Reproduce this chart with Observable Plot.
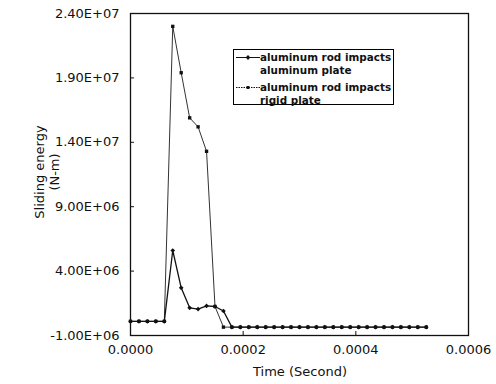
<!DOCTYPE html>
<html>
<head>
<meta charset="utf-8">
<script src="https://cdn.jsdelivr.net/npm/d3@7"></script>
<script src="https://cdn.jsdelivr.net/npm/@observablehq/plot@0.6"></script>
<style>
  html, body { margin: 0; padding: 0; background: #fff; }
  #wrap { position: relative; width: 496px; height: 384px; font-family: "DejaVu Sans", sans-serif; }
  #legend { position: absolute; left: 233px; top: 49px; width: 159px; height: 54px; border: 1px solid #000; background: #fff;
    font: bold 10.4px "DejaVu Sans", sans-serif; color: #111; }
  .item { position: absolute; left: 0; }
  .item svg { position: absolute; left: 2px; }
  .item div { position: absolute; left: 26px; white-space: nowrap; line-height: 12.5px; }
  #ytitle { position: absolute; left: 47px; top: 172px; transform: translate(-50%, -50%) rotate(-90deg); text-align: center;
    font: 13px "DejaVu Sans", sans-serif; line-height: 15px; white-space: nowrap; color: #111; }
  #xtitle { position: absolute; left: 300px; top: 364px; transform: translateX(-50%); font: 13px "DejaVu Sans", sans-serif; color: #111; white-space: nowrap; }
</style>
</head>
<body>
<div id="wrap"></div>
<script>
// Data
const time = [0, 1.5e-5, 3.0e-5, 4.5e-5, 6.0e-5, 7.5e-5, 9.0e-5, 1.05e-4, 1.2e-4, 1.35e-4, 1.5e-4, 1.65e-4,
  1.8e-4, 1.95e-4, 2.1e-4, 2.25e-4, 2.4e-4, 2.55e-4, 2.7e-4, 2.85e-4, 3.0e-4, 3.15e-4, 3.3e-4, 3.45e-4,
  3.6e-4, 3.75e-4, 3.9e-4, 4.05e-4, 4.2e-4, 4.35e-4, 4.5e-4, 4.65e-4, 4.8e-4, 4.95e-4, 5.1e-4, 5.25e-4];
const aluminumPlate = [1.0e5, 1.0e5, 1.0e5, 1.0e5, 1.0e5, 5.6e6, 2.7e6, 1.15e6, 1.05e6, 1.3e6, 1.25e6, 0.9e6,
  -3.5e5, -3.5e5, -3.5e5, -3.5e5, -3.5e5, -3.5e5, -3.5e5, -3.5e5, -3.5e5, -3.5e5, -3.5e5, -3.5e5,
  -3.5e5, -3.5e5, -3.5e5, -3.5e5, -3.5e5, -3.5e5, -3.5e5, -3.5e5, -3.5e5, -3.5e5, -3.5e5, -3.5e5];
const rigidPlate = [1.0e5, 1.0e5, 1.0e5, 1.0e5, 1.0e5, 2.3e7, 1.94e7, 1.59e7, 1.52e7, 1.33e7, 1.25e6, -3.5e5,
  -3.5e5, -3.5e5, -3.5e5, -3.5e5, -3.5e5, -3.5e5, -3.5e5, -3.5e5, -3.5e5, -3.5e5, -3.5e5, -3.5e5,
  -3.5e5, -3.5e5, -3.5e5, -3.5e5, -3.5e5, -3.5e5, -3.5e5, -3.5e5, -3.5e5, -3.5e5, -3.5e5, -3.5e5];
const seriesNames = ["aluminum rod impacts aluminum plate", "aluminum rod impacts rigid plate"];
const legendLines = [["aluminum rod impacts", "aluminum plate"], ["aluminum rod impacts", "rigid plate"]];
const yTicks = [-1.0e6, 4.0e6, 9.0e6, 1.4e7, 1.9e7, 2.4e7];
const xTicks = [0, 0.0002, 0.0004, 0.0006];
const xTitle = "Time (Second)";
const yTitle = ["Sliding energy", "(N-m)"];

const fmtY = d => {
  const [m, e] = d.toExponential(2).split("e");
  const n = Math.abs(+e);
  return m + "E" + (+e < 0 ? "-" : "+") + String(n).padStart(2, "0");
};
const fmtX = d => d.toFixed(4);

const alData = time.map((t, i) => ({t, v: aluminumPlate[i]}));
const rgData = time.map((t, i) => ({t, v: rigidPlate[i]}));

const W = 496, H = 384;
const mL = 130, mR = 28, mT = 13, mB = 49;
const fw = W - mL - mR, fh = H - mT - mB;

const chart = Plot.plot({
  width: W, height: H,
  marginLeft: mL, marginRight: mR, marginTop: mT, marginBottom: mB,
  style: {fontFamily: "DejaVu Sans, sans-serif", fontSize: "13px", color: "#111", background: "#fff"},
  x: {domain: [0, 0.0006]},
  y: {domain: [-1.0e6, 2.4e7]},
  marks: [
    Plot.frame({stroke: "#111", strokeWidth: 1.3}),
    Plot.axisY(yTicks, {tickSize: 0, tickPadding: 11, tickFormat: fmtY, label: null, fontSize: 13}),
    Plot.axisX(xTicks, {tickSize: 0, tickPadding: 9, tickFormat: fmtX, label: null, fontSize: 13}),
    Plot.tickY(yTicks, {y: d => d, insetRight: fw - 4, stroke: "#111"}),
    Plot.tickX(xTicks, {x: d => d, insetTop: fh - 4, stroke: "#111"}),
    Plot.line(rgData, {x: "t", y: "v", stroke: "#333", strokeWidth: 1}),
    Plot.dot(rgData, {x: "t", y: "v", r: 1.9, fill: "#111", symbol: "square"}),
    Plot.line(alData, {x: "t", y: "v", stroke: "#111", strokeWidth: 1.3}),
    Plot.dot(alData, {x: "t", y: "v", r: 2.1, fill: "#111", symbol: "diamond2"})
  ]
});

const wrap = document.getElementById("wrap");
wrap.appendChild(chart);

const yt = document.createElement("div");
yt.id = "ytitle";
yt.innerHTML = yTitle.join("<br>");
wrap.appendChild(yt);

const xt = document.createElement("div");
xt.id = "xtitle";
xt.textContent = xTitle;
wrap.appendChild(xt);

const lg = document.createElement("div");
lg.id = "legend";
legendLines.forEach((lines, i) => {
  const it = document.createElement("div");
  it.className = "item";
  it.style.top = (i === 0 ? 1 : 31) + "px";
  it.title = seriesNames[i];
  const dash = i === 0 ? "" : ' stroke-dasharray="1.5,1"';
  const mk = i === 0 ? '<path d="M12,4 L14.3,6.5 L12,9 L9.7,6.5 Z" fill="#111"/>' : '<rect x="10.5" y="5" width="3" height="3" fill="#111"/>';
  it.innerHTML = `<svg width="24" height="13" style="top:0"><line x1="0" y1="6.5" x2="24" y2="6.5" stroke="#111" stroke-width="1"${dash}/>${mk}</svg>` +
    `<div style="top:0">${lines[0]}</div><div style="top:12.5px">${lines[1]}</div>`;
  lg.appendChild(it);
});
wrap.appendChild(lg);
</script>
</body>
</html>
